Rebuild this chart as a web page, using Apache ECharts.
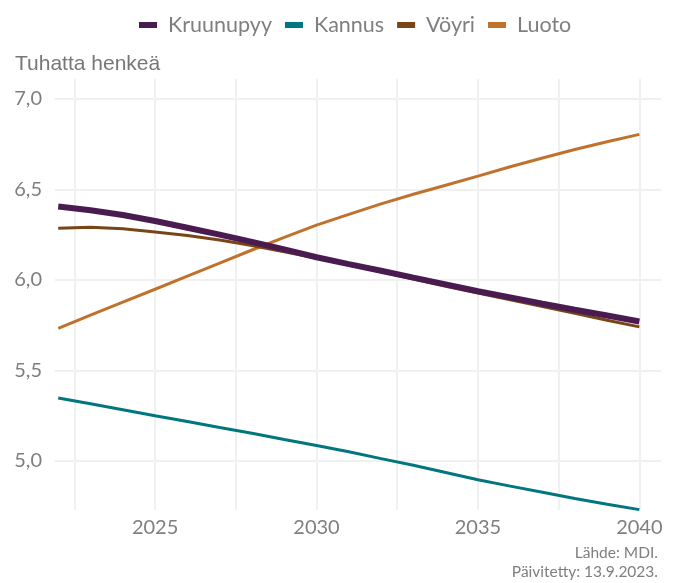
<!DOCTYPE html>
<html>
<head>
<meta charset="utf-8">
<script src="https://cdn.jsdelivr.net/npm/echarts@6/dist/echarts.min.js"></script>
<style>
  html, body { margin: 0; padding: 0; background: #fff; }
  #main { width: 673px; height: 583px; }
</style>
</head>
<body>
<div id="main"></div>
<script>
var chartDom = document.getElementById('main');
var myChart = echarts.init(chartDom);

// vuodet ja väestöennusteet (tuhatta henkeä)
var years = [2022, 2023, 2024, 2025, 2026, 2027, 2028, 2029, 2030, 2031,
  2032, 2033, 2034, 2035, 2036, 2037, 2038, 2039, 2040];
var kruunupyy = [6.405, 6.385, 6.358, 6.325, 6.288, 6.25, 6.21, 6.168, 6.125, 6.087,
  6.05, 6.012, 5.975, 5.937, 5.903, 5.868, 5.835, 5.803, 5.77];
var kannus = [5.347, 5.315, 5.282, 5.249, 5.217, 5.184, 5.152, 5.118, 5.085, 5.05,
  5.012, 4.975, 4.935, 4.895, 4.86, 4.826, 4.792, 4.76, 4.73];
var voyri = [6.285, 6.29, 6.283, 6.265, 6.245, 6.22, 6.19, 6.155, 6.12, 6.083,
  6.045, 6.005, 5.965, 5.927, 5.89, 5.852, 5.815, 5.777, 5.74];
var luoto = [5.732, 5.805, 5.877, 5.948, 6.02, 6.093, 6.165, 6.235, 6.302, 6.362,
  6.42, 6.473, 6.523, 6.573, 6.625, 6.673, 6.72, 6.763, 6.804];

var xGridValues = [2022.5, 2025, 2027.5, 2030, 2032.5, 2035, 2037.5, 2040];
var xLabelValues = [2025, 2030, 2035, 2040];
var yLabelValues = [5.0, 5.5, 6.0, 6.5, 7.0];

var names = ['Kruunupyy', 'Kannus', 'Vöyri', 'Luoto'];
var colors = ['#4a1b50', '#00767f', '#7a4516', '#c0722d'];
var widths = [6, 3, 3, 3];
var values = [kruunupyy, kannus, voyri, luoto];
var captionLines = ['Lähde: MDI.', 'Päivitetty: 13.9.2023.'];

function pairs(arr) {
  return years.map(function (y, i) { return [y, arr[i]]; });
}

var FONT = 'Lato';
var GRAY = '#7f7f7f';

var series = names.map(function (n, i) {
  return {
    name: n,
    type: 'line',
    data: pairs(values[i]),
    showSymbol: false,
    lineStyle: { color: colors[i], width: widths[i], cap: 'butt' },
    itemStyle: { color: colors[i] },
    z: 10 - i
  };
});

var captions = captionLines.map(function (t, i) {
  return {
    type: 'text',
    right: 15,
    top: 545 + i * 19,
    style: { text: t, fill: GRAY, font: '15.5px Lato' }
  };
});

var option = {
  animation: false,
  backgroundColor: '#fff',
  color: colors,
  textStyle: { fontFamily: FONT },
  title: {
    text: 'Tuhatta henkeä',
    left: 10,
    top: 49,
    textStyle: { fontFamily: 'Liberation Sans', fontSize: 21, fontWeight: 'normal', color: '#777' }
  },
  graphic: captions,
  legend: {
    data: names,
    left: 134,
    top: 9,
    itemWidth: 18,
    itemHeight: 6,
    itemGap: 13,
    icon: 'rect',
    textStyle: { fontFamily: FONT, fontSize: 21.5, color: GRAY, padding: [0, 0, 0, 6] }
  },
  grid: { left: 55, right: 12, top: 79, bottom: 73 },
  xAxis: {
    type: 'value',
    min: 2021.9,
    max: 2040.67,
    axisLine: { show: false },
    axisTick: { show: false, customValues: xGridValues },
    axisLabel: {
      customValues: xLabelValues,
      color: GRAY,
      fontSize: 20,
      fontFamily: FONT,
      margin: 8,
      formatter: function (v) { return String(v); }
    },
    splitLine: { show: true, lineStyle: { color: '#f0f0f0', width: 2 } }
  },
  yAxis: {
    type: 'value',
    min: 4.728,
    max: 7.11,
    axisLine: { show: false },
    axisTick: { show: false, customValues: yLabelValues },
    axisLabel: {
      customValues: yLabelValues,
      color: GRAY,
      fontSize: 20,
      fontFamily: FONT,
      margin: 13,
      formatter: function (v) { return v.toFixed(1).replace('.', ','); }
    },
    splitLine: { show: true, lineStyle: { color: '#f0f0f0', width: 2 } }
  },
  series: series
};

option && myChart.setOption(option);
</script>
</body>
</html>
